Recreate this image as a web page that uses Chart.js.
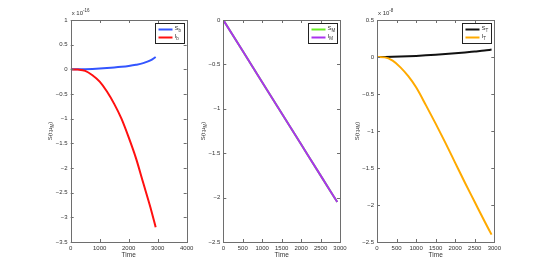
<!DOCTYPE html>
<html>
<head>
<meta charset="utf-8">
<script src="https://cdn.jsdelivr.net/npm/chart.js@4/dist/chart.umd.min.js"></script>
<style>
  html, body { margin: 0; padding: 0; background: #fff; }
  #wrap { position: relative; width: 545px; height: 273px; }
  .panel { position: absolute; top: 0; height: 273px; }
</style>
</head>
<body>
<div id="wrap">
  <div class="panel" style="left:40px;width:165px"><canvas id="c1"></canvas></div>
  <div class="panel" style="left:190px;width:165px"><canvas id="c2"></canvas></div>
  <div class="panel" style="left:345px;width:165px"><canvas id="c3"></canvas></div>
</div>
<script>
// panel 1 (x 10^-16)
const timeB = [0, 250, 500, 750, 1000, 1250, 1500, 1750, 2000, 2250, 2500, 2750, 2930];
const sB = [0, 0.001, 0.004, 0.009, 0.016, 0.025, 0.036, 0.05, 0.068, 0.092, 0.125, 0.18, 0.25];
const iB = [0, -0.005, -0.03, -0.12, -0.25, -0.45, -0.7, -1.0, -1.38, -1.8, -2.3, -2.8, -3.2];

// panel 2
const timeM = [0, 500, 1000, 1500, 2000, 2500, 2930];
const sM = [0, -0.35, -0.7, -1.05, -1.4, -1.75, -2.05];
const iM = [0, -0.35, -0.7, -1.05, -1.4, -1.75, -2.05];

// panel 3 (x 10^-8)
const timeT = [0, 200, 400, 600, 800, 1000, 1250, 1500, 1750, 2000, 2250, 2500, 2750, 2930];
const sT = [0, 0.001, 0.003, 0.006, 0.01, 0.015, 0.022, 0.03, 0.04, 0.05, 0.062, 0.075, 0.088, 0.1];
const iT = [0, -0.005, -0.05, -0.14, -0.26, -0.41, -0.65, -0.9, -1.16, -1.43, -1.7, -1.96, -2.22, -2.4];

const FONT = '"Liberation Sans", Arial, Helvetica, sans-serif';
const AXIS = '#6e6e6e';
const TXT = '#333';

function pts(xs, ys) {
  return xs.map((x, i) => ({ x, y: ys[i] }));
}

function fmt(v) {
  const s = String(Math.round(v * 1000) / 1000);
  return s.replace('-', '\u2212');
}

// draws the matlab-style box, inward ticks, legend, labels
const matlabFrame = {
  id: 'matlabFrame',
  afterDraw(chart, args, opts) {
    const { ctx, chartArea: a, scales } = chart;
    ctx.save();
    ctx.strokeStyle = AXIS;
    ctx.lineWidth = 1;
    ctx.strokeRect(Math.round(a.left) + 0.5, Math.round(a.top) + 0.5,
      Math.round(a.right - a.left), Math.round(a.bottom - a.top));
    const tl = 3;
    ctx.beginPath();
    scales.x.ticks.forEach(t => {
      const px = Math.round(scales.x.getPixelForValue(t.value)) + 0.5;
      ctx.moveTo(px, a.bottom); ctx.lineTo(px, a.bottom - tl);
      ctx.moveTo(px, a.top); ctx.lineTo(px, a.top + tl);
    });
    scales.y.ticks.forEach(t => {
      const py = Math.round(scales.y.getPixelForValue(t.value)) + 0.5;
      ctx.moveTo(a.left, py); ctx.lineTo(a.left + tl, py);
      ctx.moveTo(a.right, py); ctx.lineTo(a.right - tl, py);
    });
    ctx.stroke();

    // legend
    const bw = 29, bh = 20;
    const bx = Math.round(a.right - 3 - bw) + 0.5, by = Math.round(a.top + 3) + 0.5;
    ctx.fillStyle = '#fff';
    ctx.fillRect(bx, by, bw, bh);
    ctx.strokeStyle = '#222';
    ctx.strokeRect(bx, by, bw, bh);
    opts.legend.forEach((item, i) => {
      const ly = by + 6 + i * 8;
      ctx.strokeStyle = item.color;
      ctx.lineWidth = 2;
      ctx.beginPath();
      ctx.moveTo(bx + 3, ly); ctx.lineTo(bx + 17, ly);
      ctx.stroke();
      ctx.fillStyle = TXT;
      ctx.textBaseline = 'middle';
      ctx.textAlign = 'left';
      ctx.font = '6px ' + FONT;
      ctx.fillText(item.main, bx + 19, ly - 1);
      const w = ctx.measureText(item.main).width;
      ctx.font = '4.5px ' + FONT;
      ctx.fillText(item.sub, bx + 19 + w, ly + 1.5);
    });

    // exponent
    if (opts.exp) {
      ctx.fillStyle = TXT;
      ctx.textAlign = 'left';
      ctx.textBaseline = 'alphabetic';
      ctx.font = '6px ' + FONT;
      ctx.fillText('x 10', a.left + 1, a.top - 5);
      const w = ctx.measureText('x 10').width;
      ctx.font = '4.5px ' + FONT;
      ctx.fillText(opts.exp, a.left + 1 + w, a.top - 8);
    }

    // x title
    ctx.fillStyle = TXT;
    ctx.font = '6.5px ' + FONT;
    ctx.textAlign = 'center';
    ctx.textBaseline = 'middle';
    ctx.fillText('Time', (a.left + a.right) / 2, a.bottom + 13);

    // y title with subscript
    ctx.translate(a.left - 20, (a.top + a.bottom) / 2);
    ctx.rotate(-Math.PI / 2);
    ctx.font = '6px ' + FONT;
    const p1 = 'S(t;\u03bc', p2 = ')';
    const w1 = ctx.measureText(p1).width;
    ctx.font = '4.5px ' + FONT;
    const ws = ctx.measureText('M').width;
    ctx.font = '6px ' + FONT;
    const w2 = ctx.measureText(p2).width;
    let x0 = -(w1 + ws + w2) / 2;
    ctx.textAlign = 'left';
    ctx.fillText(p1, x0, 0);
    ctx.font = '4.5px ' + FONT;
    ctx.fillText('M', x0 + w1, 2);
    ctx.font = '6px ' + FONT;
    ctx.fillText(p2, x0 + w1 + ws, 0);
    ctx.restore();
  }
};

function makeChart(id, cfg) {
  const tickFont = { family: FONT, size: 6 };
  return new Chart(document.getElementById(id), {
    type: 'line',
    data: {
      datasets: cfg.series.map((s, i) => ({
        data: pts(s.x, s.y),
        borderColor: s.color,
        borderWidth: 2,
        pointRadius: 0,
        cubicInterpolationMode: 'monotone',
        fill: false,
        order: cfg.series.length - i,   // later series on top
      })),
    },
    options: {
      responsive: true,
      maintainAspectRatio: false,
      animation: false,
      layout: { padding: { top: 20, right: cfg.padRight, left: 0, bottom: 0 } },
      plugins: {
        legend: { display: false },
        tooltip: { enabled: false },
        matlabFrame: { legend: cfg.legend, exp: cfg.exp },
      },
      scales: {
        x: {
          type: 'linear',
          min: cfg.xMin, max: cfg.xMax,
          grid: { display: false, drawTicks: false },
          border: { display: false },
          ticks: { stepSize: cfg.xStep, font: tickFont, color: TXT, padding: 3, maxRotation: 0,
                   callback: v => fmt(v) },
          afterFit: s => { s.height = 31; s.paddingRight = 0; s.paddingLeft = 0; },
        },
        y: {
          min: cfg.yMin, max: cfg.yMax,
          grid: { display: false, drawTicks: false },
          border: { display: false },
          ticks: { stepSize: 0.5, font: tickFont, color: TXT, padding: 3,
                   callback: v => fmt(v) },
          afterFit: s => { s.width = cfg.yWidth; s.paddingTop = 0; s.paddingBottom = 0; },
        },
      },
    },
    plugins: [matlabFrame],
  });
}

makeChart('c1', {
  series: [
    { x: timeB, y: sB, color: '#3355ff' },
    { x: timeB, y: iB, color: '#ff1010' },
  ],
  legend: [{ main: 'S', sub: 'b', color: '#3355ff' }, { main: 'I', sub: 'b', color: '#ff1010' }],
  exp: '-16',
  xMin: 0, xMax: 4000, xStep: 1000,
  yMin: -3.5, yMax: 1,
  yWidth: 30.7, padRight: 18.3,
});

makeChart('c2', {
  series: [
    { x: timeM, y: sM, color: '#66ee22' },
    { x: timeM, y: iM, color: '#aa33ee' },
  ],
  legend: [{ main: 'S', sub: 'M', color: '#66ee22' }, { main: 'I', sub: 'M', color: '#aa33ee' }],
  exp: null,
  xMin: 0, xMax: 3000, xStep: 500,
  yMin: -2.5, yMax: 0,
  yWidth: 33.3, padRight: 15,
});

makeChart('c3', {
  series: [
    { x: timeT, y: sT, color: '#111111' },
    { x: timeT, y: iT, color: '#ffaa00' },
  ],
  legend: [{ main: 'S', sub: 'T', color: '#111111' }, { main: 'I', sub: 'T', color: '#ffaa00' }],
  exp: '-8',
  xMin: 0, xMax: 3000, xStep: 500,
  yMin: -2.5, yMax: 0.5,
  yWidth: 32, padRight: 15.7,
});
</script>
</body>
</html>
